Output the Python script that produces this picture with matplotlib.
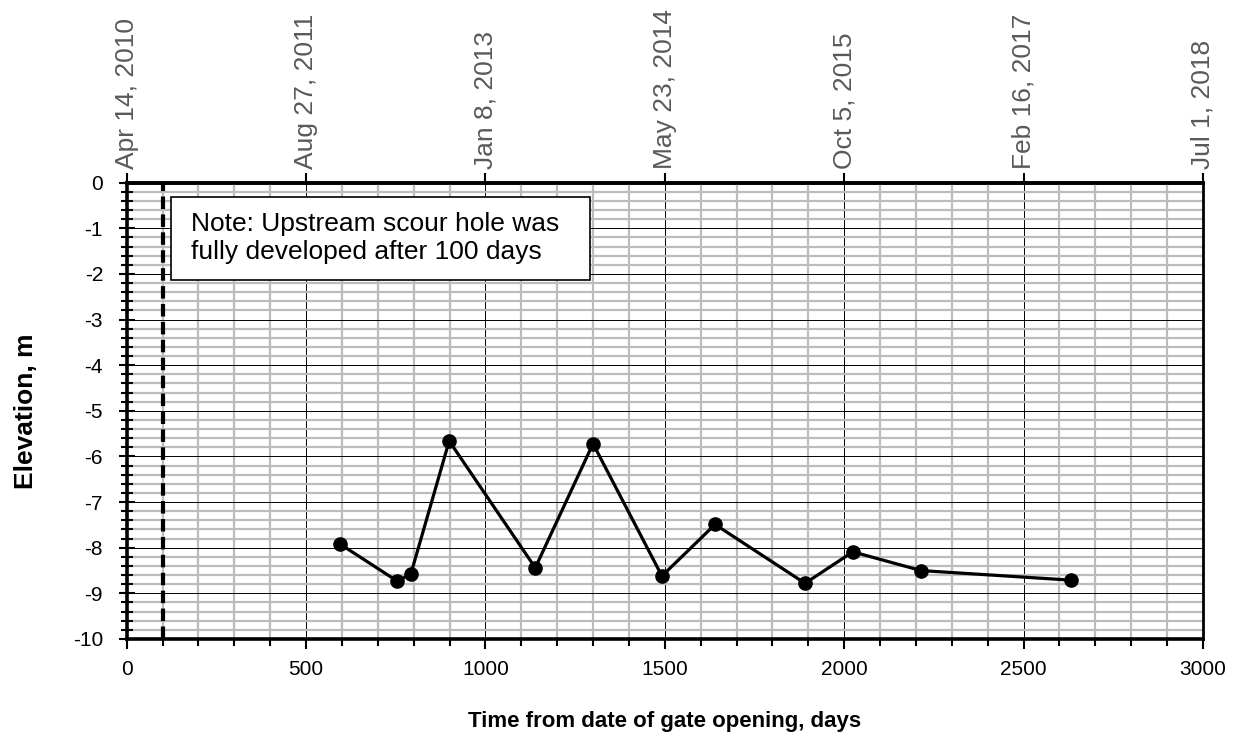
import matplotlib
matplotlib.use("Agg")
import matplotlib.pyplot as plt
from matplotlib.patches import Rectangle
from matplotlib.ticker import MultipleLocator

plt.rcParams['font.family'] = ['Liberation Sans', 'DejaVu Sans']

# survey days after gate opening and scour hole bottom elevation (m)
days = [595, 754, 792, 899, 1139, 1300, 1492, 1640, 1891, 2024, 2214, 2631]
elevation = [-7.92, -8.73, -8.58, -5.66, -8.44, -5.72, -8.62, -7.49, -8.78, -8.09, -8.50, -8.71]

date_ticks = [0, 500, 1000, 1500, 2000, 2500, 3000]
date_labels = ["Apr 14, 2010", "Aug 27, 2011", "Jan 8, 2013", "May 23, 2014",
               "Oct 5, 2015", "Feb 16, 2017", "Jul 1, 2018"]
scour_day = 100
note = "Note: Upstream scour hole was\nfully developed after 100 days"

fig = plt.figure(figsize=(12.44, 7.36), dpi=100)
ax = fig.add_axes([0.1018, 0.1318, 0.8652, 0.620])

ax.set_xlim(0, 3000)
ax.set_ylim(-10, 0)
ax.xaxis.set_major_locator(MultipleLocator(500))
ax.xaxis.set_minor_locator(MultipleLocator(100))
ax.yaxis.set_major_locator(MultipleLocator(1))
ax.yaxis.set_minor_locator(MultipleLocator(0.2))

ax.grid(which='minor', color='#bcbcbc', linewidth=1.6, zorder=0)
ax.grid(which='major', color='black', linewidth=0.7, zorder=0.5)
ax.set_axisbelow(True)

ax.axvline(scour_day, color='black', linewidth=3, linestyle=(0, (3, 1.3)), zorder=2)

ax.plot(days, elevation, color='black', linewidth=2.3, marker='o', markersize=9.5, zorder=3)

# note box
ax.add_patch(Rectangle((123, -2.13), 1168, 1.81, facecolor='white', edgecolor='black',
                       linewidth=1.2, zorder=4))
ax.text(179, -1.21, note, fontsize=19, va='center', ha='left', linespacing=1.22, zorder=5)

for side in ['left', 'top', 'bottom']:
    ax.spines[side].set_linewidth(2.6)
ax.spines['right'].set_linewidth(2.0)

ax.tick_params(axis='x', which='major', direction='out', length=7, width=1.5, labelsize=15, pad=8)
ax.tick_params(axis='x', which='minor', direction='out', length=5, width=1.5)
ax.tick_params(axis='y', which='major', direction='inout', length=12, width=1.5, labelsize=15, pad=11)
ax.tick_params(axis='y', which='minor', direction='inout', length=8, width=1.5)
ax.set_yticklabels([str(int(v)) for v in ax.get_yticks()])

ax.set_xlabel("Time from date of gate opening, days", fontsize=16, fontweight='bold')
ax.set_ylabel("Elevation, m", fontsize=19, fontweight='bold')
ax.xaxis.set_label_coords(0.5, -0.158)
ax.yaxis.set_label_coords(-0.082, 0.5)

top = ax.secondary_xaxis('top')
top.set_xticks(date_ticks)
top.set_xticklabels(date_labels, rotation=90, color='#595959', fontsize=19)
top.tick_params(direction='out', length=7, width=1.5, pad=3)
top.spines['top'].set_linewidth(2.6)

fig.savefig("out.png", dpi=100)
